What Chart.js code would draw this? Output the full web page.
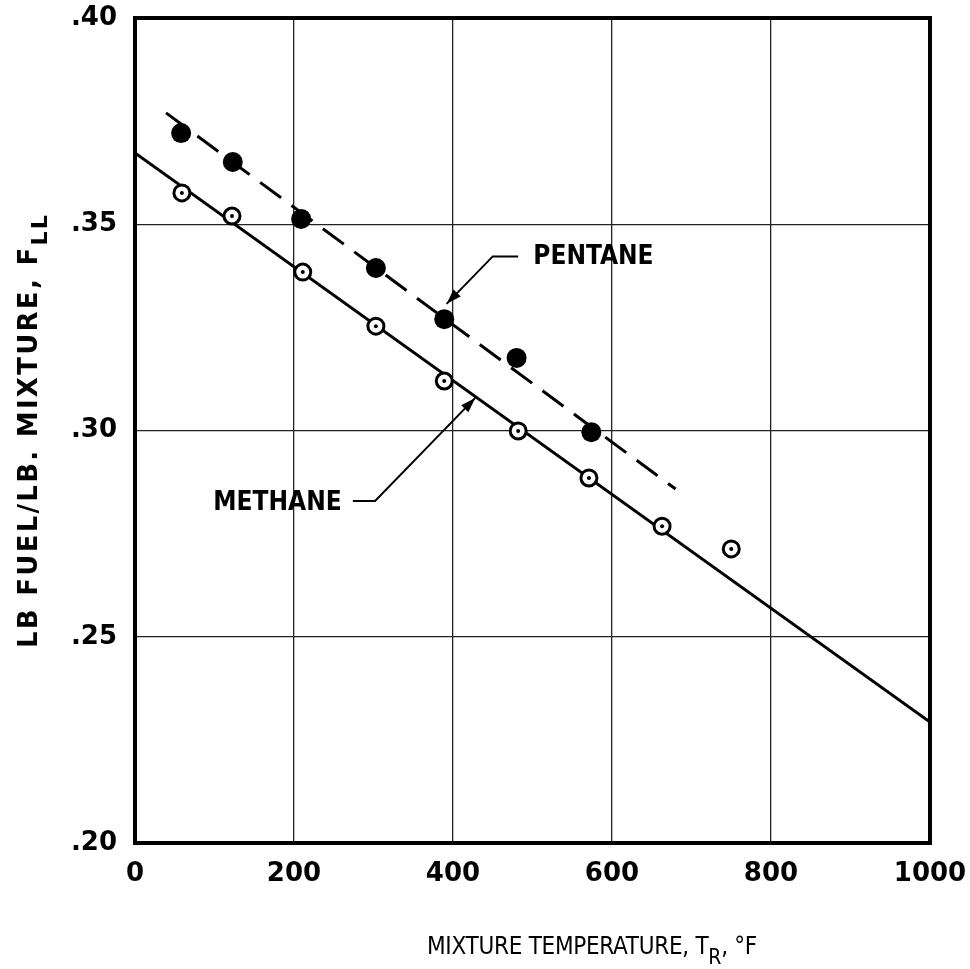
<!DOCTYPE html>
<html>
<head>
<meta charset="utf-8">
<script src="https://cdn.jsdelivr.net/npm/chart.js@4/dist/chart.umd.min.js"></script>
<style>
html,body{margin:0;padding:0;background:#fff;}
#wrap{width:970px;height:969px;position:relative;}
</style>
</head>
<body>
<div id="wrap"><canvas id="c" width="970" height="969"></canvas></div>
<script>
// ---- data ----
const xTickValues = [0, 200, 400, 600, 800, 1000];
const yTickValues = [0.20, 0.25, 0.30, 0.35, 0.40];

const methaneTemp = [59, 122, 211, 303, 389, 482, 571, 663, 750];
const methaneFuel = [0.3576, 0.3520, 0.3384, 0.3253, 0.3120, 0.2999, 0.2885, 0.2768, 0.2713];

const pentaneTemp = [58, 123, 209, 303, 389, 480, 574];
const pentaneFuel = [0.3721, 0.3651, 0.3513, 0.3394, 0.3270, 0.3176, 0.2996];

const methaneFitTemp = [0, 1000];
const methaneFitFuel = [0.3673, 0.2293];
const pentaneFitTemp = [39, 680];
const pentaneFitFuel = [0.3770, 0.2858];

// callout labels and their leader lines (data units)
const pentaneLabel = 'PENTANE';
const pentaneLabelAt = [501, 0.3421];
const pentaneLeaderTemp = [482, 450, 392];
const pentaneLeaderFuel = [0.3422, 0.3422, 0.3307];

const methaneLabel = 'METHANE';
const methaneLabelAt = [260, 0.2824];
const methaneLeaderTemp = [274, 302, 428];
const methaneLeaderFuel = [0.2829, 0.2829, 0.3079];

const xTitleMain = 'MIXTURE TEMPERATURE, T';
const xTitleSub = 'R';
const xTitleEnd = ', °F';
const yTitleMain = 'LB FUEL/LB. MIXTURE, F';
const yTitleSub = 'LL';

const zip = (xs, ys) => xs.map((v, i) => ({x: v, y: ys[i]}));

const overlay = {
  id: 'overlay',
  afterDatasetsDraw(chart) {
    const {ctx, chartArea: a, scales} = chart;
    const sx = scales.x, sy = scales.y;
    ctx.save();
    // frame
    ctx.strokeStyle = '#000';
    ctx.lineWidth = 4;
    ctx.strokeRect(a.left, a.top, a.right - a.left, a.bottom - a.top);

    function leader(xs, ys) {
      const pts = xs.map((v, i) => [sx.getPixelForValue(v), sy.getPixelForValue(ys[i])]);
      ctx.beginPath();
      ctx.lineWidth = 2;
      ctx.strokeStyle = '#000';
      ctx.moveTo(pts[0][0], pts[0][1]);
      for (let i = 1; i < pts.length; i++) ctx.lineTo(pts[i][0], pts[i][1]);
      ctx.stroke();
      const n = pts.length;
      const [x1, y1] = pts[n - 2], [x2, y2] = pts[n - 1];
      const ang = Math.atan2(y2 - y1, x2 - x1);
      const L = 15, W = 5;
      ctx.beginPath();
      ctx.moveTo(x2, y2);
      ctx.lineTo(x2 - L * Math.cos(ang) + W * Math.sin(ang), y2 - L * Math.sin(ang) - W * Math.cos(ang));
      ctx.lineTo(x2 - L * Math.cos(ang) - W * Math.sin(ang), y2 - L * Math.sin(ang) + W * Math.cos(ang));
      ctx.closePath();
      ctx.fillStyle = '#000';
      ctx.fill();
    }
    leader(pentaneLeaderTemp, pentaneLeaderFuel);
    leader(methaneLeaderTemp, methaneLeaderFuel);

    ctx.fillStyle = '#000';
    ctx.font = 'bold 26px "DejaVu Sans Condensed", "DejaVu Sans", sans-serif';
    ctx.textBaseline = 'middle';
    ctx.textAlign = 'left';
    ctx.fillText(pentaneLabel, sx.getPixelForValue(pentaneLabelAt[0]), sy.getPixelForValue(pentaneLabelAt[1]));
    ctx.textAlign = 'right';
    ctx.fillText(methaneLabel, sx.getPixelForValue(methaneLabelAt[0]), sy.getPixelForValue(methaneLabelAt[1]));
    ctx.restore();
  },
  afterDraw(chart) {
    const {ctx} = chart;
    ctx.save();
    ctx.fillStyle = '#000';
    ctx.textBaseline = 'alphabetic';
    ctx.textAlign = 'left';

    // X axis title
    const fMain = '24px "DejaVu Sans Condensed", "DejaVu Sans", sans-serif';
    const fSub = '21px "DejaVu Sans Condensed", "DejaVu Sans", sans-serif';
    ctx.font = fMain;
    const w1 = ctx.measureText(xTitleMain).width;
    const w3 = ctx.measureText(xTitleEnd).width;
    ctx.font = fSub;
    const w2 = ctx.measureText(xTitleSub).width;
    const xStart = 427, xEnd = 757, xBase = 954;
    const nChars = xTitleMain.length + xTitleSub.length + xTitleEnd.length;
    const ls = ((xEnd - xStart) - (w1 + w2 + w3)) / nChars;
    ctx.letterSpacing = ls + 'px';
    ctx.font = fMain;
    let cx = xStart;
    ctx.fillText(xTitleMain, cx, xBase);
    cx += ctx.measureText(xTitleMain).width;
    ctx.font = fSub;
    ctx.fillText(xTitleSub, cx, xBase + 10);
    cx += ctx.measureText(xTitleSub).width;
    ctx.font = fMain;
    ctx.fillText(xTitleEnd, cx, xBase);

    // Y axis title (rotated)
    const gMain = 'bold 26px "DejaVu Sans", sans-serif';
    const gSub = 'bold 22px "DejaVu Sans", sans-serif';
    ctx.letterSpacing = '0px';
    ctx.font = gMain;
    const v1 = ctx.measureText(yTitleMain).width;
    ctx.font = gSub;
    const v2 = ctx.measureText(yTitleSub).width;
    const yBottom = 648, yTop = 213;
    const ls2 = ((yBottom - yTop) - (v1 + v2)) / (yTitleMain.length + yTitleSub.length);
    ctx.letterSpacing = ls2 + 'px';
    ctx.translate(37, yBottom);
    ctx.rotate(-Math.PI / 2);
    ctx.font = gMain;
    ctx.fillText(yTitleMain, 0, 0);
    const m = ctx.measureText(yTitleMain).width;
    ctx.font = gSub;
    ctx.fillText(yTitleSub, m, 10);
    ctx.restore();
  }
};

const tickFont = {family: '"DejaVu Sans", sans-serif', size: 26, weight: 'bold'};

new Chart(document.getElementById('c'), {
  type: 'scatter',
  data: {
    datasets: [
      {
        label: 'Methane centre dots',
        data: zip(methaneTemp, methaneFuel),
        pointRadius: 2, pointBackgroundColor: '#000', pointBorderWidth: 0,
        showLine: false, order: 0
      },
      {
        label: 'Methane',
        data: zip(methaneTemp, methaneFuel),
        pointRadius: 8, pointBackgroundColor: '#fff', pointBorderColor: '#000', pointBorderWidth: 3,
        showLine: false, order: 1
      },
      {
        label: 'Pentane',
        data: zip(pentaneTemp, pentaneFuel),
        pointRadius: 10, pointBackgroundColor: '#000', pointBorderColor: '#000', pointBorderWidth: 0,
        showLine: false, order: 1
      },
      {
        label: 'Methane fit',
        data: zip(methaneFitTemp, methaneFitFuel),
        showLine: true, borderColor: '#000', borderWidth: 3, pointRadius: 0, order: 3
      },
      {
        label: 'Pentane fit',
        data: zip(pentaneFitTemp, pentaneFitFuel),
        showLine: true, borderColor: '#000', borderWidth: 3, borderDash: [26, 13], pointRadius: 0, order: 3
      }
    ]
  },
  options: {
    responsive: false,
    animation: false,
    devicePixelRatio: 1,
    layout: {padding: {top: 18, right: 40, left: 0, bottom: 0}},
    plugins: {legend: {display: false}, tooltip: {enabled: false}, title: {display: false}},
    scales: {
      x: {
        type: 'linear', min: 0, max: 1000,
        afterBuildTicks: s => { s.ticks = xTickValues.map(v => ({value: v})); },
        afterFit: s => { s.height = 126; s.paddingLeft = 0; s.paddingRight = 0; s.paddingTop = 0; s.paddingBottom = 0; },
        grid: {color: '#222', lineWidth: 1.3, drawTicks: false},
        border: {display: false},
        ticks: {font: tickFont, color: '#000', padding: 16, maxRotation: 0, callback: v => String(v)}
      },
      y: {
        type: 'linear', min: 0.20, max: 0.40,
        afterBuildTicks: s => { s.ticks = yTickValues.map(v => ({value: v})); },
        afterFit: s => { s.width = 135; s.paddingLeft = 0; s.paddingRight = 0; s.paddingTop = 0; s.paddingBottom = 0; },
        grid: {color: '#222', lineWidth: 1.3, drawTicks: false},
        border: {display: false},
        ticks: {font: tickFont, color: '#000', padding: 18, callback: v => v.toFixed(2).replace(/^0/, '')}
      }
    }
  },
  plugins: [overlay]
});
</script>
</body>
</html>
